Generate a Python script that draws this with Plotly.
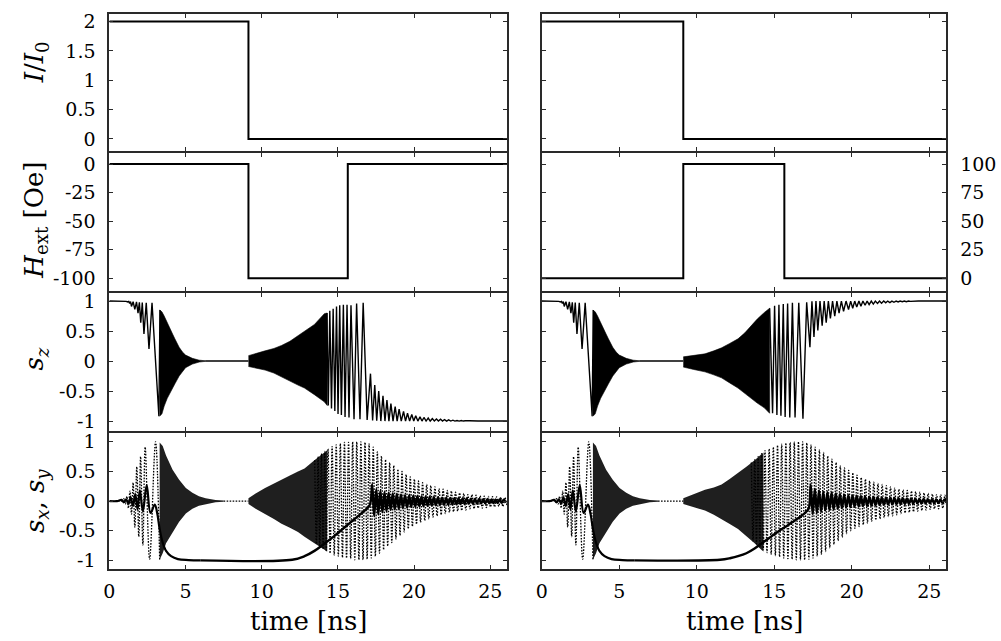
import plotly.graph_objects as go

# ---------------- data ----------------
T_MAX = 26.1
x_ticks = [0, 5, 10, 15, 20, 25]
x_ticktext = ["0", "5", "10", "15", "20", "25"]

# current pulse I/I0 (step, hv)
I_t = [0, 9.13, 26.1]
I_v = [2, 0, 0]

# external field pulse (step, hv)
H_t = [0, 9.13, 15.65, 26.1]
H_left_v = [0, -100, 0, 0]
H_right_v = [0, 100, 0, 0]

# s_z before the field pulse (identical in both columns)
sz_pre_t = [0, 0.9, 1.1, 1.2, 1.27, 1.33, 1.39, 1.45, 1.56, 1.67, 1.78, 1.88, 1.97, 2.06,
            2.16, 2.27, 2.42, 2.6, 2.8, 3.25, 3.32]
sz_pre_v = [1, 1, 0.995, 0.985, 0.995, 0.96, 0.99, 0.91, 0.99, 0.86, 0.985, 0.8, 0.98, 0.64,
            0.975, 0.45, 0.97, 0.2, 0.97, -0.92, 0.85]
# dense precession after switching (envelope)
sz_env1_t = [3.3, 3.45, 3.6, 3.8, 4.0, 4.15, 4.3, 4.58, 4.8, 5.0, 5.45, 5.9, 6.3]
sz_env1_up = [0.85, 0.82, 0.75, 0.63, 0.52, 0.45, 0.37, 0.23, 0.15, 0.1, 0.045, 0.015, 0.005]
sz_env1_lo = [-0.92, -0.88, -0.75, -0.62, -0.52, -0.45, -0.38, -0.25, -0.17, -0.11, -0.05, -0.016, -0.005]
sz_flat_t = [6.3, 9.13]
sz_flat_v = [0, 0]

# left column: dense oscillation during field pulse (envelope)
szL_env2_t = [9.13, 9.6, 10.22, 10.8, 11.3, 11.85, 12.38, 12.81, 13.46, 14.11, 14.3]
szL_env2_up = [0.09, 0.12, 0.17, 0.21, 0.26, 0.33, 0.42, 0.5, 0.61, 0.79, 0.80]
szL_env2_lo = [-0.09, -0.11, -0.15, -0.2, -0.26, -0.33, -0.40, -0.45, -0.56, -0.68, -0.74]
# left column: resolved extrema afterwards
szL_post_t = [14.28, 14.37, 14.47, 14.58, 14.69, 14.80, 14.91, 15.01, 15.12, 15.23,
              15.36, 15.47, 15.60, 15.73, 15.86, 16.06, 16.23, 16.45, 16.66, 16.92,
              17.14, 17.28, 17.42, 17.55, 17.68, 17.82, 17.96, 18.09, 18.22, 18.35,
              18.48, 18.62, 18.76, 18.89, 19.02, 19.16, 19.31, 19.44, 19.57, 19.71,
              19.85, 19.98, 20.11, 20.25, 20.39, 20.52, 20.65, 20.79, 20.93, 21.06,
              21.20, 21.33, 21.47, 21.60, 21.74, 21.87, 22.00, 22.14, 22.27, 22.41,
              22.55, 22.68, 22.82, 22.96, 23.10, 23.23, 23.37, 23.50, 23.64, 24.2, 26.1]
szL_post_v = [0.80, -0.74, 0.84, -0.79, 0.87, -0.83, 0.91, -0.88, 0.93, -0.90,
              0.94, -0.93, 0.94, -0.94, 0.93, -0.97, 0.96, -0.97, 0.97, -0.98,
              -0.21, -0.99, -0.40, -0.995, -0.50, -1.0, -0.58, -1.0, -0.65, -1.0,
              -0.71, -1.0, -0.76, -1.0, -0.80, -1.0, -0.84, -1.0, -0.87, -1.0,
              -0.89, -1.0, -0.91, -1.0, -0.93, -1.0, -0.94, -1.0, -0.95, -1.0,
              -0.96, -1.0, -0.965, -1.0, -0.97, -1.0, -0.975, -1.0, -0.98, -1.0,
              -0.985, -1.0, -0.99, -1.0, -0.99, -1.0, -0.995, -1.0, -0.995, -1.0, -1.0]

# right column
szR_env2_t = [9.13, 9.8, 10.53, 11.1, 11.6, 12.1, 12.66, 13.1, 13.5, 13.9, 14.36, 14.7]
szR_env2_up = [0.07, 0.09, 0.12, 0.17, 0.22, 0.29, 0.37, 0.47, 0.59, 0.7, 0.81, 0.88]
szR_env2_lo = [-0.1, -0.14, -0.18, -0.23, -0.28, -0.36, -0.45, -0.53, -0.62, -0.7, -0.78, -0.87]
szR_post_t = [14.7, 14.89, 15.02, 15.17, 15.30, 15.43, 15.58, 15.70, 15.86, 16.00,
              16.17, 16.34, 16.58, 16.85, 17.09, 17.30, 17.43, 17.56, 17.69, 17.81,
              17.95, 18.09, 18.22, 18.35, 18.49, 18.62, 18.76, 18.90, 19.04, 19.18,
              19.33, 19.47, 19.63, 19.79, 19.93, 20.06, 20.19, 20.32, 20.46, 20.59,
              20.72, 20.86, 20.99, 21.12, 21.26, 21.39, 21.52, 21.66, 21.79, 21.92,
              22.06, 22.19, 22.32, 22.46, 22.59, 22.72, 22.86, 22.99, 23.12, 23.26,
              23.39, 23.52, 23.66, 23.79, 24.3, 26.1]
szR_post_v = [0.88, -0.87, 0.92, -0.90, 0.94, -0.91, 0.95, -0.93, 0.96, -0.94,
              0.97, -0.94, 0.97, -0.96, 0.98, 0.23, 0.995, 0.40, 1.0, 0.51,
              1.0, 0.59, 1.0, 0.64, 1.0, 0.71, 1.0, 0.75, 1.0, 0.80,
              1.0, 0.83, 1.0, 0.86, 1.0, 0.88, 1.0, 0.90, 1.0, 0.915,
              1.0, 0.93, 1.0, 0.94, 1.0, 0.95, 1.0, 0.96, 1.0, 0.965,
              1.0, 0.97, 1.0, 0.975, 1.0, 0.98, 1.0, 0.985, 1.0, 0.99,
              1.0, 0.99, 1.0, 0.995, 1.0, 1.0]

# s_y (dotted) before the field pulse (both columns)
sy_pre_t = [0, 0.6, 0.75, 0.85, 0.95, 1.05, 1.15, 1.25, 1.35, 1.45, 1.56, 1.67, 1.8, 1.93,
            2.05, 2.2, 2.35, 2.64, 3.03, 3.3]
sy_pre_v = [0, 0, 0.02, -0.02, 0.04, -0.05, 0.08, -0.12, 0.17, -0.22, 0.31, -0.44, 0.58, -0.6,
            0.75, -0.74, 0.91, -0.98, 1.0, -0.99]
sy_env1_t = [3.3, 3.5, 3.72, 4.15, 4.58, 5.02, 5.45, 5.88, 6.32, 6.97, 7.5]
sy_env1_up = [0.99, 0.93, 0.77, 0.53, 0.36, 0.22, 0.14, 0.08, 0.05, 0.02, 0.01]
sy_env1_lo = [-0.99, -0.88, -0.71, -0.52, -0.35, -0.21, -0.13, -0.08, -0.05, -0.02, -0.01]
sy_flat_t = [7.5, 9.13]
sy_flat_v = [0, 0]

syL_env2_t = [9.13, 9.6, 10.22, 10.8, 11.3, 11.85, 12.38, 12.81, 13.46, 14.1, 14.3]
syL_env2_up = [0.05, 0.13, 0.22, 0.29, 0.36, 0.43, 0.5, 0.55, 0.69, 0.83, 0.86]
syL_env2_lo = [-0.05, -0.13, -0.22, -0.30, -0.38, -0.45, -0.52, -0.6, -0.71, -0.82, -0.85]
syL_peak_t = [13.48, 13.70, 13.92, 14.14,
              14.35, 14.62, 14.89, 15.16, 15.43, 15.70, 15.97, 16.24, 16.51, 16.78, 17.05,
              17.32, 17.59, 17.86, 18.13, 18.40, 18.67, 18.94, 19.21, 19.48, 19.75, 20.02,
              20.29, 20.56, 20.83, 21.10, 21.37, 21.64, 21.91, 22.18, 22.45, 22.72, 22.99,
              23.26, 23.53, 23.80, 24.07, 24.34, 24.61, 24.88, 25.15, 25.42, 25.69, 25.96]
syL_peak_v = [0.69, 0.75, 0.80, 0.84,
              0.88, 0.92, 0.95, 0.97, 0.99, 0.99, 1.0, 1.0, 1.0, 0.99, 0.97,
              0.91, 0.83, 0.76, 0.70, 0.65, 0.60, 0.54, 0.50, 0.45, 0.41, 0.37,
              0.34, 0.31, 0.28, 0.26, 0.24, 0.21, 0.20, 0.18, 0.17, 0.15, 0.14,
              0.13, 0.11, 0.11, 0.10, 0.09, 0.085, 0.08, 0.075, 0.07, 0.065, 0.06]
syL_trough_t = [13.59, 13.81, 14.03, 14.24,
                14.49, 14.76, 15.03, 15.30, 15.57, 15.84, 16.11, 16.38, 16.65, 16.92, 17.19,
                17.46, 17.73, 18.00, 18.27, 18.54, 18.81, 19.08, 19.35, 19.62, 19.89, 20.16,
                20.43, 20.70, 20.97, 21.24, 21.51, 21.78, 22.05, 22.32, 22.59, 22.86, 23.13,
                23.40, 23.67, 23.94, 24.21, 24.48, 24.75, 25.02, 25.29, 25.56, 25.83, 26.10]
syL_trough_v = [-0.72, -0.77, -0.81, -0.85,
                -0.88, -0.91, -0.93, -0.95, -0.96, -0.97, -0.99, -0.99, -0.99, -0.98, -0.96,
                -0.93, -0.88, -0.82, -0.76, -0.70, -0.64, -0.58, -0.52, -0.47, -0.43, -0.39,
                -0.36, -0.33, -0.30, -0.27, -0.25, -0.23, -0.21, -0.19, -0.18, -0.17, -0.16,
                -0.15, -0.13, -0.13, -0.12, -0.12, -0.11, -0.10, -0.10, -0.09, -0.09, -0.08]

syR_env2_t = [9.13, 9.8, 10.53, 11.1, 11.6, 12.1, 12.66, 13.2, 13.73, 14.2, 14.3]
syR_env2_up = [0.05, 0.12, 0.19, 0.23, 0.28, 0.37, 0.47, 0.58, 0.69, 0.8, 0.82]
syR_env2_lo = [-0.05, -0.1, -0.16, -0.23, -0.3, -0.38, -0.47, -0.59, -0.71, -0.83, -0.85]
syR_peak_t = [13.52, 13.74, 13.96, 14.18,
              14.40, 14.67, 14.94, 15.21, 15.48, 15.75, 16.02, 16.29, 16.56, 16.83, 17.10,
              17.37, 17.64, 17.91, 18.18, 18.45, 18.72, 18.99, 19.26, 19.53, 19.80, 20.07,
              20.34, 20.61, 20.88, 21.15, 21.42, 21.69, 21.96, 22.23, 22.50, 22.77, 23.04,
              23.31, 23.58, 23.85, 24.12, 24.39, 24.66, 24.93, 25.20, 25.47, 25.74, 26.01]
syR_peak_v = [0.65, 0.70, 0.75, 0.80,
              0.85, 0.88, 0.91, 0.94, 0.96, 0.98, 0.99, 1.0, 1.0, 1.0, 0.98,
              0.95, 0.91, 0.87, 0.82, 0.76, 0.71, 0.65, 0.60, 0.56, 0.52, 0.48,
              0.44, 0.40, 0.37, 0.34, 0.32, 0.30, 0.28, 0.26, 0.24, 0.22, 0.20,
              0.19, 0.18, 0.17, 0.16, 0.15, 0.14, 0.13, 0.12, 0.11, 0.11, 0.10]
syR_trough_t = [13.63, 13.85, 14.07, 14.29,
                14.53, 14.80, 15.07, 15.34, 15.61, 15.88, 16.15, 16.42, 16.69, 16.96, 17.23,
                17.50, 17.77, 18.04, 18.31, 18.58, 18.85, 19.12, 19.39, 19.66, 19.93, 20.20,
                20.47, 20.74, 21.01, 21.28, 21.55, 21.82, 22.09, 22.36, 22.63, 22.90, 23.17,
                23.44, 23.71, 23.98, 24.25, 24.52, 24.79, 25.06, 25.33, 25.60, 25.87, 26.14]
syR_trough_v = [-0.67, -0.72, -0.77, -0.82,
                -0.87, -0.90, -0.92, -0.94, -0.96, -0.97, -0.98, -0.99, -0.99, -0.99, -0.98,
                -0.96, -0.93, -0.90, -0.85, -0.79, -0.73, -0.67, -0.61, -0.55, -0.50, -0.46,
                -0.43, -0.40, -0.37, -0.34, -0.32, -0.30, -0.28, -0.26, -0.25, -0.23, -0.21,
                -0.20, -0.19, -0.18, -0.17, -0.16, -0.15, -0.14, -0.13, -0.13, -0.12, -0.12]

# s_x (solid) before the field pulse (both columns)
sx_pre_t = [0, 0.5, 0.8, 0.95, 1.1, 1.25, 1.4, 1.55, 1.7, 1.85, 2.0, 2.2, 2.45, 2.7, 2.98,
            3.15, 3.3, 3.5, 3.72, 4.05, 4.5, 5.2, 6.0]
sx_pre_v = [0, 0.0, 0.02, -0.02, 0.03, -0.04, 0.06, -0.08, 0.12, -0.14, 0.18, -0.17, 0.27, -0.2,
            -0.06, -0.22, -0.47, -0.7, -0.84, -0.93, -0.98, -0.995, -1.0]
sxL_mid_t = [6.0, 12.0, 12.81, 13.46, 14.1, 14.76, 15.41, 16.06, 16.71, 17.1]
sxL_mid_v = [-1.0, -0.99, -0.93, -0.84, -0.72, -0.59, -0.45, -0.31, -0.17, -0.06]
sxL_peak_t = [17.25, 17.52, 17.79, 18.06, 18.33, 18.60, 18.87, 19.14, 19.41, 19.68, 19.95,
              20.22, 20.49, 20.76, 21.03, 21.30, 21.57, 21.84, 22.11, 22.38, 22.65, 22.92,
              23.19, 23.46, 23.73, 24.00, 24.27, 24.54, 24.81, 25.08, 25.35, 25.62, 25.89]
sxL_peak_v = [0.28, 0.20, 0.17, 0.15, 0.14, 0.13, 0.12, 0.11, 0.10, 0.095, 0.09,
              0.085, 0.08, 0.075, 0.07, 0.065, 0.06, 0.058, 0.055, 0.052, 0.05, 0.048,
              0.045, 0.043, 0.04, 0.038, 0.036, 0.034, 0.032, 0.03, 0.028, 0.026, 0.025]
sxL_trough_t = [17.38, 17.65, 17.92, 18.19, 18.46, 18.73, 19.00, 19.27, 19.54, 19.81, 20.08,
                20.35, 20.62, 20.89, 21.16, 21.43, 21.70, 21.97, 22.24, 22.51, 22.78, 23.05,
                23.32, 23.59, 23.86, 24.13, 24.40, 24.67, 24.94, 25.21, 25.48, 25.75, 26.02]
sxL_trough_v = [-0.25, -0.22, -0.19, -0.17, -0.15, -0.14, -0.13, -0.12, -0.11, -0.10, -0.095,
                -0.09, -0.085, -0.08, -0.075, -0.07, -0.065, -0.062, -0.058, -0.055, -0.052, -0.05,
                -0.048, -0.046, -0.044, -0.042, -0.04, -0.038, -0.036, -0.034, -0.032, -0.03, -0.028]

sxR_mid_t = [6.0, 11.5, 12.2, 12.66, 13.2, 13.73, 14.26, 14.79, 15.32, 15.86, 16.3, 16.71, 17.13, 17.25]
sxR_mid_v = [-1.0, -0.99, -0.96, -0.93, -0.88, -0.8, -0.7, -0.6, -0.5, -0.41, -0.33, -0.26, -0.16, -0.1]
sxR_peak_t = [17.35, 17.62, 17.89, 18.16, 18.43, 18.70, 18.97, 19.24, 19.51, 19.78, 20.05,
              20.32, 20.59, 20.86, 21.13, 21.40, 21.67, 21.94, 22.21, 22.48, 22.75, 23.02,
              23.29, 23.56, 23.83, 24.10, 24.37, 24.64, 24.91, 25.18, 25.45, 25.72, 25.99]
sxR_peak_v = [0.28, 0.21, 0.18, 0.16, 0.15, 0.14, 0.13, 0.12, 0.11, 0.10, 0.095,
              0.09, 0.085, 0.08, 0.075, 0.07, 0.065, 0.06, 0.058, 0.055, 0.052, 0.05,
              0.048, 0.045, 0.043, 0.04, 0.038, 0.036, 0.034, 0.032, 0.03, 0.028, 0.026]
sxR_trough_t = [17.48, 17.75, 18.02, 18.29, 18.56, 18.83, 19.10, 19.37, 19.64, 19.91, 20.18,
                20.45, 20.72, 20.99, 21.26, 21.53, 21.80, 22.07, 22.34, 22.61, 22.88, 23.15,
                23.42, 23.69, 23.96, 24.23, 24.50, 24.77, 25.04, 25.31, 25.58, 25.85, 26.12]
sxR_trough_v = [-0.22, -0.20, -0.18, -0.16, -0.15, -0.14, -0.13, -0.12, -0.11, -0.10, -0.095,
                -0.09, -0.085, -0.08, -0.075, -0.07, -0.066, -0.062, -0.058, -0.055, -0.052, -0.05,
                -0.048, -0.046, -0.044, -0.042, -0.04, -0.038, -0.036, -0.034, -0.032, -0.03, -0.028]

# axis ticks
I_ticks = [0, 0.5, 1, 1.5, 2]
I_ticktext = ["0", "0.5", "1", "1.5", "2"]
HL_ticks = [-100, -75, -50, -25, 0]
HL_ticktext = ["-100", "-75", "-50", "-25", "0"]
HR_ticks = [0, 25, 50, 75, 100]
HR_ticktext = ["0", "25", "50", "75", "100"]
s_ticks = [-1, -0.5, 0, 0.5, 1]
s_ticktext = ["-1", "-0.5", "0", "0.5", "1"]

# ---------------- figure ----------------
FONT = "DejaVu Serif"
W, H = 1001, 641
LW = 2
fig = go.Figure()


def axn(i):
    return ("x" if i == 1 else f"x{i}"), ("y" if i == 1 else f"y{i}")


def line(i, t, v, width=1.5, dash="solid", shape="linear"):
    xa, ya = axn(i)
    fig.add_trace(go.Scatter(x=t, y=v, xaxis=xa, yaxis=ya, mode="lines",
                             line=dict(color="black", width=width, dash=dash, shape=shape),
                             hoverinfo="skip", showlegend=False))


def band(i, t, up, lo, color, lw=0.6):
    xa, ya = axn(i)
    fig.add_trace(go.Scatter(x=list(t) + list(t)[::-1], y=list(up) + list(lo)[::-1],
                             xaxis=xa, yaxis=ya, mode="lines", fill="toself",
                             fillcolor=color, line=dict(color=color, width=lw),
                             hoverinfo="skip", showlegend=False))


def zig(pt, pv, tt, tv):
    pts = sorted(zip(list(pt) + list(tt), list(pv) + list(tv)))
    return [p[0] for p in pts], [p[1] for p in pts]


DOT = "1.6px,1.4px"
DOTFILL = "rgba(0,0,0,0.88)"

# row 1: current
line(1, I_t, I_v, width=2, shape="hv")
line(2, I_t, I_v, width=2, shape="hv")
# row 2: field
line(3, H_t, H_left_v, width=2, shape="hv")
line(4, H_t, H_right_v, width=2, shape="hv")

# row 3: s_z
for i, (et, eu, el, pt, pv) in zip(
        (5, 6),
        ((szL_env2_t, szL_env2_up, szL_env2_lo, szL_post_t, szL_post_v),
         (szR_env2_t, szR_env2_up, szR_env2_lo, szR_post_t, szR_post_v))):
    band(i, sz_env1_t, sz_env1_up, sz_env1_lo, "black")
    band(i, et, eu, el, "black")
    line(i, sz_pre_t, sz_pre_v, width=1.4)
    line(i, sz_flat_t, sz_flat_v, width=1.6)
    line(i, pt, pv, width=1.4)

# row 4: s_x (solid), s_y (dotted)
for i, (et, eu, el, ypt, ypv, ytt, ytv, mt, mv, xpt, xpv, xtt, xtv) in zip(
        (7, 8),
        ((syL_env2_t, syL_env2_up, syL_env2_lo, syL_peak_t, syL_peak_v, syL_trough_t, syL_trough_v,
          sxL_mid_t, sxL_mid_v, sxL_peak_t, sxL_peak_v, sxL_trough_t, sxL_trough_v),
         (syR_env2_t, syR_env2_up, syR_env2_lo, syR_peak_t, syR_peak_v, syR_trough_t, syR_trough_v,
          sxR_mid_t, sxR_mid_v, sxR_peak_t, sxR_peak_v, sxR_trough_t, sxR_trough_v))):
    band(i, sy_env1_t, sy_env1_up, sy_env1_lo, DOTFILL, lw=0)
    band(i, et, eu, el, DOTFILL, lw=0)
    line(i, sy_pre_t, sy_pre_v, width=1.3, dash=DOT, shape="spline")
    line(i, sy_flat_t, sy_flat_v, width=1.3, dash=DOT)
    zt, zv = zig(ypt, ypv, ytt, ytv)
    line(i, zt, zv, width=1.3, dash=DOT, shape="spline")
    line(i, sx_pre_t, sx_pre_v, width=2.2, shape="spline")
    ot, ov = zig(xpt, xpv, xtt, xtv)
    line(i, list(mt) + ot, list(mv) + ov, width=2.4, shape="spline")

# frame lines are drawn outside the plotting area, so shrink domains by half a line width
h = LW / 2
COL_PX = [(103, 505), (538, 947)]
ROW_PX = [(9, 149), (149, 291), (291, 432), (432, 571)]
X_DOM = [[(a + h) / W, (b - h) / W] for a, b in COL_PX]
Y_DOM = [[1 - (b - h) / H, 1 - (a + h) / H] for a, b in ROW_PX]
Y_RANGES = [
    ([-0.20, 2.13], [-0.20, 2.13]),
    ([-111.5, 10.0], [-11.5, 110.0]),
    ([-1.165, 1.13], [-1.165, 1.13]),
    ([-1.14, 1.15], [-1.14, 1.15]),
]
Y_TICKS = [
    ((I_ticks, I_ticktext), (I_ticks, I_ticktext)),
    ((HL_ticks, HL_ticktext), (HR_ticks, HR_ticktext)),
    ((s_ticks, s_ticktext), (s_ticks, s_ticktext)),
    ((s_ticks, s_ticktext), (s_ticks, s_ticktext)),
]

FRAME = "#2a2a2a"
tickfont = dict(family=FONT, size=19, color="black")
layout = dict(width=W, height=H, margin=dict(l=0, r=0, t=0, b=0), autosize=False,
              paper_bgcolor="white", plot_bgcolor="white", showlegend=False)
for r in range(4):
    for c in range(2):
        i = r * 2 + c + 1
        xk = "xaxis" if i == 1 else f"xaxis{i}"
        yk = "yaxis" if i == 1 else f"yaxis{i}"
        xa, ya = axn(i)
        layout[xk] = dict(domain=X_DOM[c], anchor=ya, range=[0, T_MAX],
                          tickmode="array", tickvals=x_ticks, ticktext=x_ticktext,
                          showticklabels=(r == 3), ticks="inside", ticklen=4, tickwidth=1,
                          tickcolor=FRAME, showline=True, mirror="ticks", linecolor=FRAME,
                          linewidth=LW, showgrid=False, zeroline=False, tickfont=tickfont,
                          ticklabelstandoff=5, fixedrange=True)
        tv, tt = Y_TICKS[r][c]
        show_y = (c == 0) or (r == 1)
        layout[yk] = dict(domain=Y_DOM[r], anchor=xa, range=Y_RANGES[r][c],
                          tickmode="array", tickvals=tv, ticktext=tt,
                          showticklabels=show_y, side=("right" if c == 1 else "left"),
                          ticks="inside", ticklen=4, tickwidth=1, tickcolor=FRAME,
                          showline=True, mirror="ticks", linecolor=FRAME, linewidth=LW,
                          showgrid=False, zeroline=False, tickfont=tickfont,
                          ticklabelstandoff=8, fixedrange=True)
fig.update_layout(**layout)

title_font = dict(family=FONT, size=26, color="black")
ytitles = [
    ("<i>I</i>/<i>I</i><sub>0</sub>", 59),
    ("<i>H</i><sub>ext</sub> [Oe]", 218),
    ("<i>s</i><sub><i>z</i></sub>", 358),
    ("<i>s</i><sub><i>x</i></sub>, <i>s</i><sub><i>y</i></sub>", 502),
]
for txt, ypx in ytitles:
    fig.add_annotation(text=txt, xref="paper", yref="paper", x=30 / W, y=1 - ypx / H,
                       xanchor="center", yanchor="middle", textangle=-90, showarrow=False,
                       font=title_font)
for xc in ((103 + 505) / 2, (538 + 947) / 2):
    fig.add_annotation(text="time [ns]", xref="paper", yref="paper", x=xc / W, y=1 - 623 / H,
                       xanchor="center", yanchor="middle", showarrow=False, font=title_font)

fig.write_html("out.html")
